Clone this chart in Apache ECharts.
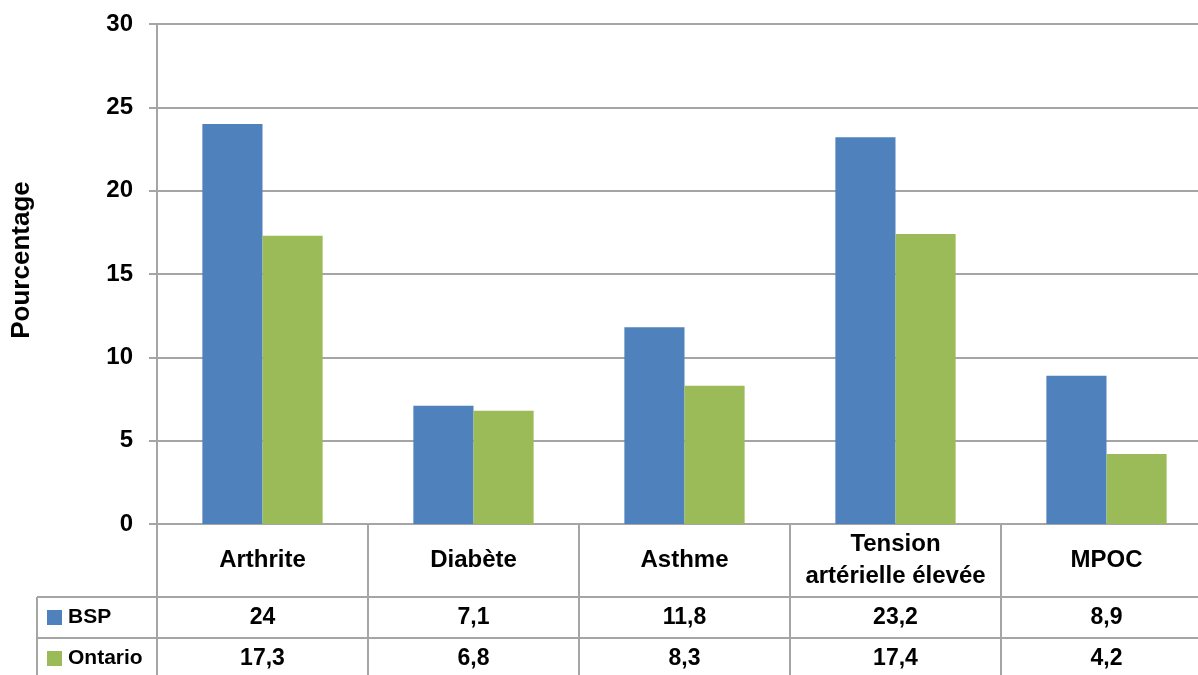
<!DOCTYPE html>
<html>
<head>
<meta charset="utf-8">
<script src="https://cdn.jsdelivr.net/npm/echarts@6/dist/echarts.min.js"></script>
<style>
html,body{margin:0;padding:0;background:#fff;}
#c{width:1198px;height:675px;}
</style>
</head>
<body>
<div id="c"></div>
<script>
const categories = ['Arthrite', 'Diabète', 'Asthme', 'Tension\nartérielle élevée', 'MPOC'];
const seriesNames = ['BSP', 'Ontario'];
const bspValues = [24, 7.1, 11.8, 23.2, 8.9];
const ontarioValues = [17.3, 6.8, 8.3, 17.4, 4.2];
const yTicks = [0, 5, 10, 15, 20, 25, 30];
const yAxisTitle = 'Pourcentage';

const colors = ['#4f81bd', '#9bbb59'];
const gray = '#a5a5a5';
const FONT = '"Liberation Sans", Arial, sans-serif';

const chart = echarts.init(document.getElementById('c'), null, {renderer: 'canvas'});

const option = {
  animation: false,
  backgroundColor: '#ffffff',
  grid: {left: 157, top: 24, width: 1055, height: 500, containLabel: false, outerBoundsMode: 'none'},
  xAxis: {
    type: 'category',
    data: categories,
    axisLine: {show: true, lineStyle: {color: gray, width: 2}},
    axisTick: {show: true, length: 151, interval: 0, alignWithLabel: false, lineStyle: {color: gray, width: 2}},
    axisLabel: {
      interval: 0, margin: 36, verticalAlign: 'middle', align: 'center',
      fontFamily: FONT, fontWeight: 'bold', fontSize: 24, lineHeight: 32, color: '#000'
    },
    splitLine: {show: false}
  },
  yAxis: {
    type: 'value',
    min: yTicks[0], max: yTicks[yTicks.length - 1], interval: yTicks[1] - yTicks[0],
    axisLine: {show: true, lineStyle: {color: gray, width: 2}},
    axisTick: {show: true, length: 8, lineStyle: {color: gray, width: 2}},
    axisLabel: {margin: 24, fontFamily: FONT, fontWeight: 'bold', fontSize: 24, color: '#000'},
    splitLine: {show: true, lineStyle: {color: gray, width: 2}}
  },
  series: [
    {name: seriesNames[0], type: 'bar', data: bspValues, barGap: '0%', barCategoryGap: '43%', itemStyle: {color: colors[0]}},
    {name: seriesNames[1], type: 'bar', data: ontarioValues, barGap: '0%', barCategoryGap: '43%', itemStyle: {color: colors[1]}}
  ]
};
chart.setOption(option);

function fmt(v) { return String(v).replace('.', ','); }

const rowTop = [597, 638];
const rowH = 41;
const g = [];
g.push({type: 'line', shape: {x1: 37, y1: 597, x2: 1198, y2: 597}, style: {stroke: gray, lineWidth: 2}});
g.push({type: 'line', shape: {x1: 37, y1: 638, x2: 1198, y2: 638}, style: {stroke: gray, lineWidth: 2}});
g.push({type: 'line', shape: {x1: 37, y1: 597, x2: 37, y2: 675}, style: {stroke: gray, lineWidth: 2}});
g.push({type: 'text', x: 22, y: 260, rotation: Math.PI / 2,
  style: {text: yAxisTitle, font: 'bold 26px ' + FONT, fill: '#000', textAlign: 'center', textVerticalAlign: 'middle'}});
const rows = [bspValues, ontarioValues];
rows.forEach((vals, r) => {
  const cy = rowTop[r] + rowH / 2;
  g.push({type: 'rect', shape: {x: 47, y: cy - 7.5, width: 15, height: 15}, style: {fill: colors[r]}});
  g.push({type: 'text', x: 68, y: cy, style: {text: seriesNames[r], font: 'bold 21px ' + FONT, fill: '#000', textAlign: 'left', textVerticalAlign: 'middle'}});
  vals.forEach((v, i) => {
    const px = chart.convertToPixel({xAxisIndex: 0}, i);
    g.push({type: 'text', x: px, y: cy, style: {text: fmt(v), font: 'bold 23px ' + FONT, fill: '#000', textAlign: 'center', textVerticalAlign: 'middle'}});
  });
});
chart.setOption({graphic: g});
</script>
</body>
</html>
